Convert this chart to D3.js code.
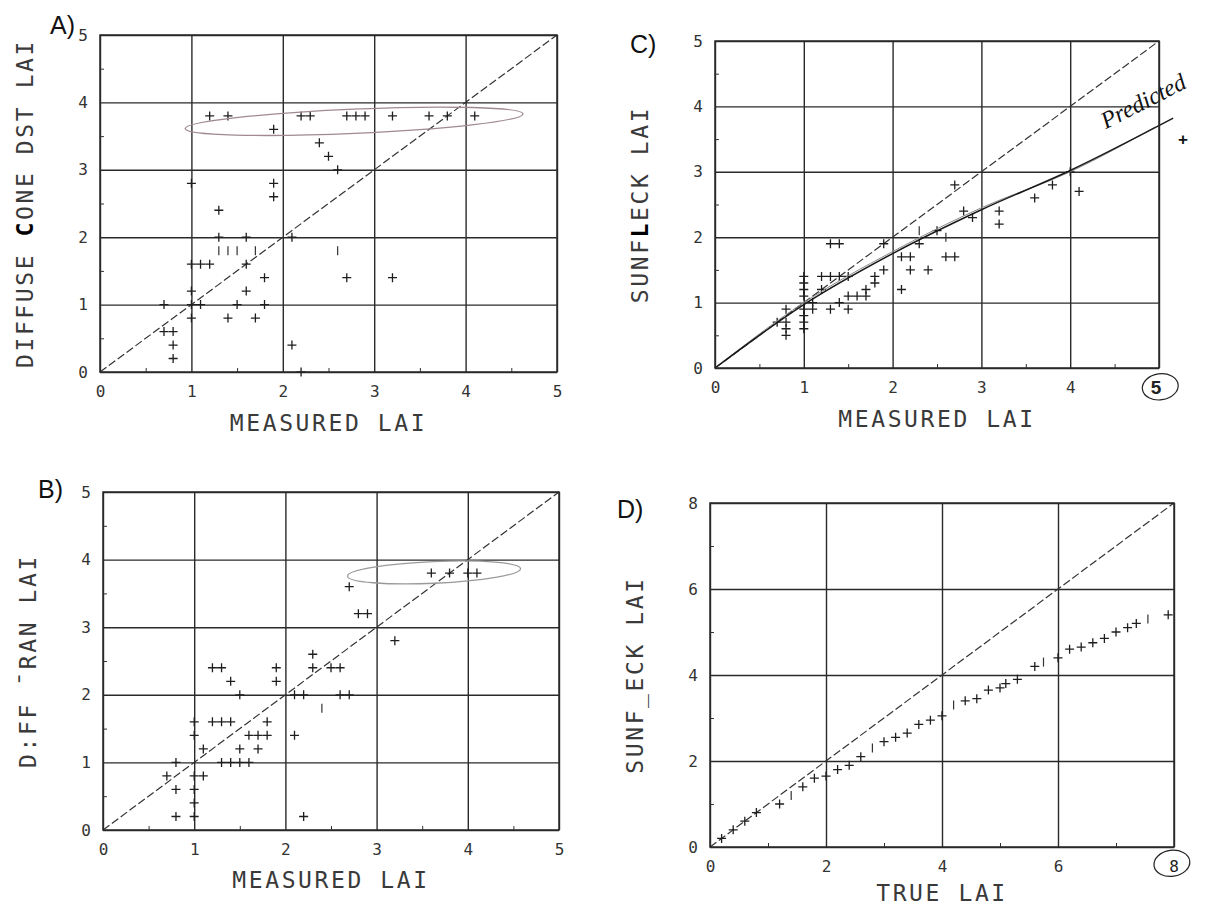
<!DOCTYPE html>
<html>
<head>
<meta charset="utf-8">
<script src="https://cdn.jsdelivr.net/npm/d3@7"></script>
<style>
  body { margin: 0; background: #fff; }
  .grid line { stroke: #2a2a2a; stroke-width: 1.4; }
  .grid path { display: none; }
  .minor line { stroke: #333; stroke-width: 1; }
  .minor path { display: none; }
  .lbl path { display: none; }
  .lbl text { font-family: "DejaVu Sans Mono", monospace; font-size: 16px; fill: #333; }
  .title { font-family: "DejaVu Sans Mono", monospace; font-size: 23px; fill: #3a3a3a; letter-spacing: 2.6px; }
  .panel-label { font-family: "Liberation Sans", Arial, sans-serif; font-size: 25px; fill: #111; }
</style>
</head>
<body>
<script>
// ---- data ----
const ticks5 = [0, 1, 2, 3, 4, 5];
const minor5 = [0.5, 1.5, 2.5, 3.5, 4.5];
const ticks8 = [0, 2, 4, 6, 8];
const minor8 = [1, 3, 5, 7];

// A) measured LAI vs diffuse cone DST LAI
const pointsA = [
  [0.7, 1.0], [0.7, 0.6], [0.8, 0.6], [0.8, 0.4], [0.8, 0.2],
  [1.0, 1.0], [1.1, 1.0], [1.0, 0.8], [1.0, 1.2], [1.0, 1.6], [1.1, 1.6], [1.2, 1.6], [1.0, 2.8],
  [1.2, 3.8], [1.4, 3.8], [1.9, 3.6], [2.2, 3.8], [2.3, 3.8], [2.7, 3.8], [2.8, 3.8], [2.9, 3.8],
  [3.2, 3.8], [3.6, 3.8], [3.8, 3.8], [4.1, 3.8],
  [2.4, 3.4], [2.5, 3.2], [2.6, 3.0],
  [1.3, 2.4], [1.9, 2.8], [1.9, 2.6], [1.3, 2.0], [1.6, 2.0], [2.1, 2.0],
  [1.6, 1.6], [1.8, 1.4], [1.6, 1.2], [1.5, 1.0], [1.8, 1.0], [1.4, 0.8], [1.7, 0.8],
  [2.1, 0.4], [2.2, 0.0], [2.7, 1.4], [3.2, 1.4]
];
const barsA = [[1.3, 1.8], [1.4, 1.8], [1.5, 1.8], [1.7, 1.8], [2.6, 1.8]];

// B) measured LAI vs diff tran LAI
const pointsB = [
  [0.7, 0.8], [0.8, 1.0], [0.8, 0.6], [0.8, 0.2], [1.0, 0.8], [1.1, 0.8], [1.0, 0.6], [1.0, 0.4], [1.0, 0.2],
  [1.0, 1.6], [1.0, 1.4], [1.1, 1.2], [1.2, 1.6], [1.3, 1.6], [1.4, 1.6],
  [1.3, 1.0], [1.4, 1.0], [1.5, 1.0], [1.6, 1.0],
  [1.5, 1.2], [1.7, 1.2], [1.6, 1.4], [1.7, 1.4], [1.8, 1.4], [1.8, 1.6],
  [1.2, 2.4], [1.3, 2.4], [1.4, 2.2], [1.5, 2.0], [1.9, 2.4], [1.9, 2.2],
  [2.1, 2.0], [2.2, 2.0], [2.6, 2.0], [2.7, 2.0], [2.1, 1.4], [2.2, 0.2],
  [2.3, 2.6], [2.3, 2.4], [2.5, 2.4], [2.6, 2.4],
  [2.7, 3.6], [2.8, 3.2], [2.9, 3.2], [3.2, 2.8],
  [3.6, 3.8], [3.8, 3.8], [4.0, 3.8], [4.1, 3.8]
];
const barsB = [[2.4, 1.8]];

// C) measured LAI vs sunfleck LAI
const pointsC = [
  [1.0, 1.4], [1.0, 1.3], [1.0, 1.2], [1.0, 1.1], [1.0, 0.9], [1.0, 0.8], [1.0, 0.7], [1.0, 0.6],
  [0.8, 0.9], [0.8, 0.7], [0.8, 0.6], [0.8, 0.5], [0.7, 0.7],
  [1.1, 0.9], [1.1, 1.0], [1.3, 0.9], [1.5, 0.9], [1.4, 1.0],
  [1.2, 1.4], [1.3, 1.4], [1.4, 1.4], [1.5, 1.4], [1.2, 1.2],
  [1.3, 1.9], [1.4, 1.9],
  [1.5, 1.1], [1.6, 1.1], [1.7, 1.1], [1.7, 1.2], [1.8, 1.3], [1.8, 1.4], [1.9, 1.5],
  [1.9, 1.9], [2.1, 1.7], [2.2, 1.7], [2.2, 1.5], [2.4, 1.5], [2.1, 1.2], [2.3, 1.9], [2.5, 2.1],
  [2.6, 1.7], [2.7, 1.7], [2.7, 2.8], [2.8, 2.4], [2.9, 2.3], [3.2, 2.4], [3.2, 2.2],
  [3.6, 2.6], [3.8, 2.8], [4.1, 2.7], [4.0, 3.0]
];
const barsC = [[2.3, 2.1], [2.6, 2.0]];
const predictedMain = [[0, 0], [1, 0.97], [2, 1.75], [3, 2.42], [4, 3.02], [5.16, 3.82]];
const predictedPencil = [[0, 0], [1, 1.0], [2, 1.78], [3, 2.45], [4, 3.0], [4.95, 3.68]];

// D) true LAI vs sunfleck LAI
const pointsD = [
  [0.2, 0.2], [0.4, 0.4], [0.6, 0.6], [0.8, 0.8], [1.2, 1.0], [1.6, 1.4], [1.8, 1.6], [2.0, 1.65],
  [2.2, 1.8], [2.4, 1.9], [2.6, 2.1], [3.0, 2.45], [3.2, 2.55], [3.4, 2.65], [3.6, 2.85], [3.8, 2.95],
  [4.0, 3.05], [4.4, 3.4], [4.6, 3.45], [4.8, 3.65], [5.0, 3.7], [5.1, 3.8], [5.3, 3.9], [5.6, 4.2],
  [6.0, 4.4], [6.2, 4.6], [6.4, 4.65], [6.6, 4.75], [6.8, 4.85], [7.0, 5.0], [7.2, 5.1], [7.35, 5.2],
  [7.9, 5.4]
];
const barsD = [[1.4, 1.2], [2.8, 2.3], [4.2, 3.3], [5.75, 4.3], [7.55, 5.3]];

// hand drawn ellipses: [cx, cy, rx, ry] in data units
const ellipseA = [2.78, 3.72, 1.85, 0.18];
const ellipseB = [3.63, 3.81, 0.95, 0.16];

const panels = [
  { label: "A)", lx: 50, ly: 34, left: 100, top: 35, width: 457, height: 337, max: 5, titleGap: 59,
    ticks: ticks5, minor: minor5, xLabels: ticks5, points: pointsA, bars: barsA,
    xTitle: "MEASURED LAI", yTitle: [["DIFFUSE ", false], ["C", true], ["ONE DST LAI", false]], ellipse: ellipseA, ellColor: "#a08a8e" },
  { label: "B)", lx: 38, ly: 498, left: 103, top: 492, width: 456, height: 338, max: 5, titleGap: 58,
    ticks: ticks5, minor: minor5, xLabels: ticks5, points: pointsB, bars: barsB,
    xTitle: "MEASURED LAI", yTitle: [["D:FF \u00afRAN LAI", false]], ellipse: ellipseB, ellColor: "#9a9a9a" },
  { label: "C)", lx: 630, ly: 53, left: 715, top: 41, width: 444, height: 327, max: 5, titleGap: 59,
    ticks: ticks5, minor: minor5, xLabels: [0, 1, 2, 3, 4], points: pointsC, bars: barsC,
    xTitle: "MEASURED LAI", yTitle: [["SUNF", false], ["L", true], ["ECK LAI", false]], circled: "5" },
  { label: "D)", lx: 617, ly: 518, left: 710, top: 503, width: 464, height: 344, max: 8, titleGap: 54,
    ticks: ticks8, minor: minor8, xLabels: [0, 2, 4, 6], points: pointsD, bars: barsD,
    xTitle: "TRUE LAI", yTitle: [["SUNF_ECK LAI", false]], circled: "8" }
];

const svg = d3.select("body")
  .append("svg")
    .attr("width", 1208)
    .attr("height", 909);

panels.forEach(p => {
  const g = svg.append("g")
    .attr("transform", `translate(${p.left},${p.top})`);

  const x = d3.scaleLinear().domain([0, p.max]).range([0, p.width]);
  const y = d3.scaleLinear().domain([0, p.max]).range([p.height, 0]);

  // grid
  g.append("g")
    .attr("class", "grid")
    .attr("transform", `translate(0,${p.height})`)
    .call(d3.axisBottom(x).tickValues(p.ticks).tickSize(-p.height).tickFormat(""));
  g.append("g")
    .attr("class", "grid")
    .call(d3.axisLeft(y).tickValues(p.ticks).tickSize(-p.width).tickFormat(""));

  // little inward ticks between grid lines
  g.append("g")
    .attr("class", "minor")
    .attr("transform", `translate(0,${p.height})`)
    .call(d3.axisBottom(x).tickValues(p.minor).tickSize(-4).tickFormat(""));
  g.append("g")
    .attr("class", "minor")
    .call(d3.axisLeft(y).tickValues(p.minor).tickSize(-4).tickFormat(""));

  // tick labels
  g.append("g")
    .attr("class", "lbl")
    .attr("transform", `translate(0,${p.height})`)
    .call(d3.axisBottom(x).tickValues(p.xLabels).tickSize(0).tickPadding(14).tickFormat(d3.format("d")));
  g.append("g")
    .attr("class", "lbl")
    .call(d3.axisLeft(y).tickValues(p.ticks).tickSize(0).tickPadding(12).tickFormat(d3.format("d")));

  // 1:1 line
  g.append("line")
    .attr("x1", x(0)).attr("y1", y(0))
    .attr("x2", x(p.max)).attr("y2", y(p.max))
    .attr("stroke", "#333")
    .attr("stroke-width", 1.2)
    .attr("stroke-dasharray", "8,3");

  // points
  g.selectAll(".pt")
    .data(p.points)
    .enter()
    .append("path")
      .attr("class", "pt")
      .attr("d", d => `M${x(d[0]) - 4.5},${y(d[1])}h9M${x(d[0])},${y(d[1]) - 4.5}v9`)
      .attr("stroke", "#1e1e1e")
      .attr("stroke-width", 1.3)
      .attr("fill", "none");

  g.selectAll(".bar")
    .data(p.bars)
    .enter()
    .append("path")
      .attr("class", "bar")
      .attr("d", d => `M${x(d[0])},${y(d[1]) - 4.5}v9`)
      .attr("stroke", "#333")
      .attr("stroke-width", 1.2);

  // hand drawn ellipse
  if (p.ellipse) {
    const [cx, cy, rx, ry] = p.ellipse;
    g.append("ellipse")
      .attr("cx", x(cx))
      .attr("cy", y(cy))
      .attr("rx", x(rx) - x(0))
      .attr("ry", y(0) - y(ry))
      .attr("transform", `rotate(-2.5,${x(cx)},${y(cy)})`)
      .attr("fill", "none")
      .attr("stroke", p.ellColor)
      .attr("stroke-width", 1.3);
  }

  // axis titles
  g.append("text")
    .attr("class", "title")
    .attr("x", p.width / 2)
    .attr("y", p.height + p.titleGap)
    .attr("text-anchor", "middle")
    .text(p.xTitle);

  const yt = g.append("text")
    .attr("class", "title")
    .attr("transform", "rotate(-90)")
    .attr("x", -p.height / 2)
    .attr("y", -67)
    .attr("text-anchor", "middle");
  p.yTitle.forEach(s => {
    yt.append("tspan")
      .attr("font-weight", s[1] ? "bold" : null)
      .attr("fill", s[1] ? "#000" : null)
      .text(s[0]);
  });

  // circled page number at the end of the x axis
  if (p.circled) {
    const bold = p.circled === "5";
    g.append("text")
      .attr("x", x(p.max) - (bold ? 3 : 0))
      .attr("y", p.height + (bold ? 26 : 25))
      .attr("text-anchor", "middle")
      .style("font-family", bold ? "Liberation Sans, Arial, sans-serif" : "DejaVu Sans Mono, monospace")
      .style("font-size", bold ? "19px" : "16px")
      .style("font-weight", bold ? "bold" : "normal")
      .style("fill", "#222")
      .text(p.circled);
    g.append("ellipse")
      .attr("cx", x(p.max) + (bold ? 1 : -2))
      .attr("cy", p.height + (bold ? 19 : 16))
      .attr("rx", 18)
      .attr("ry", 13)
      .attr("transform", `rotate(-8,${x(p.max)},${p.height + 17})`)
      .attr("fill", "none")
      .attr("stroke", "#222")
      .attr("stroke-width", 1.2);
  }

  // predicted curve with pencil notes (panel C)
  if (p.label === "C)") {
    const line = d3.line()
      .x(d => x(d[0]))
      .y(d => y(d[1]))
      .curve(d3.curveMonotoneX);
    g.append("path")
      .datum(predictedPencil)
      .attr("d", line)
      .attr("fill", "none")
      .attr("stroke", "#8a8a8a")
      .attr("stroke-width", 1);
    g.append("path")
      .datum(predictedMain)
      .attr("d", line)
      .attr("fill", "none")
      .attr("stroke", "#1a1a1a")
      .attr("stroke-width", 1.5);

    g.append("text")
      .attr("transform", `translate(${x(4.4)},${y(3.65)}) rotate(-27)`)
      .style("font-family", "Liberation Serif, serif")
      .style("font-style", "italic")
      .style("font-size", "24px")
      .style("fill", "#111")
      .text("Predicted");

    g.append("text")
      .attr("x", x(5.27))
      .attr("y", y(3.5) + 6)
      .attr("text-anchor", "middle")
      .style("font-family", "Liberation Sans, Arial, sans-serif")
      .style("font-size", "17px")
      .style("font-weight", "bold")
      .style("fill", "#111")
      .text("+");
  }

  // plot frame
  g.append("rect")
    .attr("width", p.width)
    .attr("height", p.height)
    .attr("fill", "none")
    .attr("stroke", "#2a2a2a")
    .attr("stroke-width", 1.5);

  svg.append("text")
    .attr("class", "panel-label")
    .attr("x", p.lx)
    .attr("y", p.ly)
    .text(p.label);
});
</script>
</body>
</html>
